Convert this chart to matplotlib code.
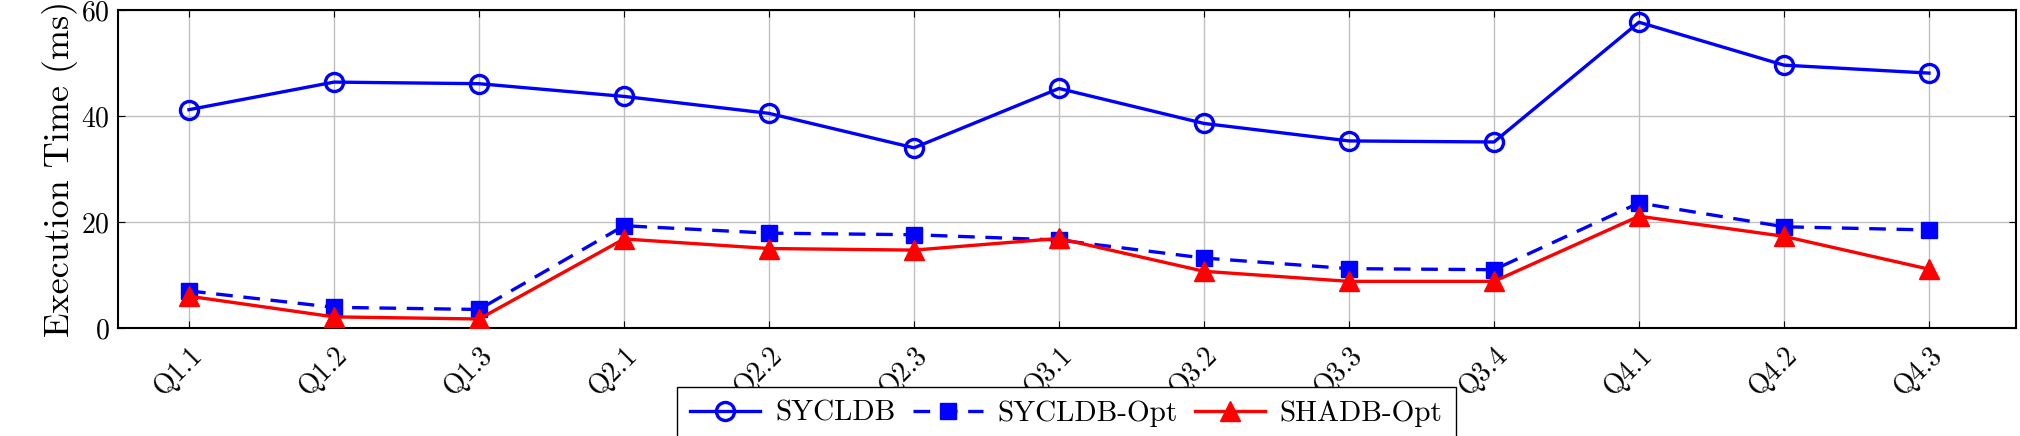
import matplotlib
matplotlib.use("Agg")
import matplotlib.pyplot as plt
import numpy as np

# query labels and timings (ms)
queries = ["Q1.1", "Q1.2", "Q1.3", "Q2.1", "Q2.2", "Q2.3", "Q3.1",
           "Q3.2", "Q3.3", "Q3.4", "Q4.1", "Q4.2", "Q4.3"]
sycldb = [41.2, 46.4, 46.1, 43.7, 40.5, 34.0, 45.2, 38.6, 35.3, 35.1, 57.7, 49.6, 48.1]
sycldb_opt = [7.0, 3.9, 3.5, 19.3, 17.9, 17.6, 16.6, 13.2, 11.2, 11.0, 23.6, 19.1, 18.5]
shadb_opt = [6.0, 2.1, 1.7, 16.8, 15.0, 14.7, 16.9, 10.7, 8.8, 8.8, 21.1, 17.3, 11.1]

plt.rcParams["font.family"] = "serif"
plt.rcParams["font.serif"] = ["cmr10"]
plt.rcParams["mathtext.fontset"] = "cm"
plt.rcParams["axes.formatter.use_mathtext"] = True

fig = plt.figure(figsize=(20.2, 4.36), dpi=100)
ax = fig.add_axes([0.0584, 0.2477, 0.9396, 0.7293])

x = np.arange(len(queries))
lw = 2.4
ax.plot(x, sycldb, color="blue", lw=lw, marker="o", markersize=13,
        markerfacecolor="none", markeredgewidth=2.4, label="SYCLDB", zorder=3)
ax.plot(x, sycldb_opt, color="blue", lw=lw, linestyle=(0, (5, 3.2)), marker="s",
        markersize=11, label="SYCLDB-Opt", zorder=3)
ax.plot(x, shadb_opt, color="red", lw=lw, marker="^", markersize=14,
        label="SHADB-Opt", zorder=4)

ax.set_xlim(-0.49, 12.6)
ax.set_ylim(0, 60)
ax.set_yticks([0, 20, 40, 60])
ax.set_xticks(x)
ax.set_xticklabels(queries, rotation=45, ha="right", rotation_mode="anchor")
ax.tick_params(axis="both", direction="in", top=True, right=True, labelsize=20,
               length=5, width=0.8)
ax.tick_params(axis="x", pad=10)
ax.tick_params(axis="y", pad=6)
ax.grid(True, color="#c0c0c0", linewidth=1.0)
ax.set_axisbelow(True)
for s in ax.spines.values():
    s.set_linewidth(1.5)
ax.set_ylabel("Execution Time (ms)", fontsize=26, labelpad=2)

fig.legend(loc="upper center", bbox_to_anchor=(0.528, 0.145), ncol=3,
           fontsize=21, frameon=True, fancybox=False, edgecolor="black",
           framealpha=1, handlelength=2.4, columnspacing=0.6, handletextpad=0.5,
           borderpad=0.45)

fig.savefig("out.png", dpi=100)
